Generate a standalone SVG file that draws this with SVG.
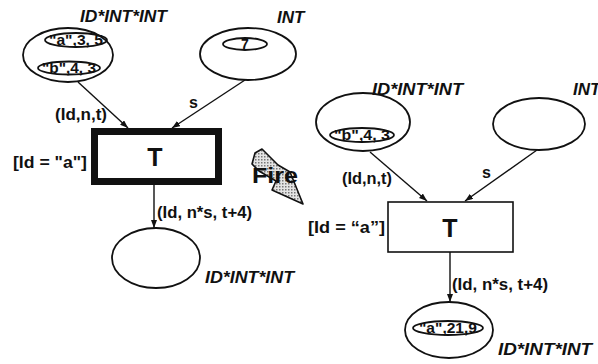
<svg xmlns="http://www.w3.org/2000/svg" width="598" height="364" viewBox="0 0 598 364">
  <style>
    .place { fill: #fff; stroke: #111; stroke-width: 1.8; }
    .token { fill: none; stroke: #111; stroke-width: 1.8; }
    .trans { fill: #fff; stroke: #111; }
    .arc { fill: none; stroke: #111; stroke-width: 1.4; marker-end: url(#head); }
    text { font-family: "Liberation Sans", Arial, sans-serif; font-weight: bold; fill: #111; }
    .type { font-style: italic; font-size: 17px; }
    .lab { font-size: 16px; }
    .tok { font-size: 14px; text-anchor: middle; }
    .tname { font-size: 25px; text-anchor: middle; }
  </style>
  <defs>
    <marker id="head" markerWidth="8" markerHeight="6" refX="8" refY="3" orient="auto" markerUnits="userSpaceOnUse">
      <path d="M0,0 L8,3 L0,6 z" fill="#111"/>
    </marker>
    <pattern id="stipple" width="3" height="3" patternUnits="userSpaceOnUse">
      <rect width="3" height="3" fill="#e4e4e4"/>
      <rect width="1.5" height="1.5" fill="#777"/>
    </pattern>
  </defs>

  <!-- connectors -->
  <g id="connectors">
    <path class="arc" d="M78,82 L128,128"/>
    <path class="arc" d="M245,80 L172,128"/>
    <path class="arc" d="M154,185 L154,228"/>
    <path class="arc" d="M370,152 L427,201"/>
    <path class="arc" d="M537,150 L465,201"/>
    <path class="arc" d="M450,252 L450,302"/>
  </g>

  <!-- net before firing -->
  <g id="p1-before">
    <ellipse class="place" cx="68" cy="55" rx="45" ry="27"/>
    <ellipse class="token" cx="76" cy="40" rx="31" ry="7"/>
    <text class="tok" x="76" y="45" textLength="54" lengthAdjust="spacingAndGlyphs">"a",3, 5</text>
    <ellipse class="token" cx="69" cy="68" rx="31" ry="6.5"/>
    <text class="tok" x="69" y="73" textLength="54" lengthAdjust="spacingAndGlyphs">"b",4, 3</text>
    <text class="type" x="80" y="22" textLength="87" lengthAdjust="spacingAndGlyphs">ID*INT*INT</text>
  </g>
  <g id="p2-before">
    <ellipse class="place" cx="248" cy="54" rx="48" ry="26"/>
    <ellipse class="token" cx="245" cy="44" rx="22" ry="6"/>
    <text class="tok" x="245" y="49">7</text>
    <text class="type" x="277" y="23">INT</text>
  </g>
  <g id="t-before">
    <rect class="trans" x="94.5" y="131.5" width="124" height="50" stroke-width="7"/>
    <text class="tname" x="155" y="166">T</text>
    <text class="lab" x="13" y="168" textLength="74" lengthAdjust="spacingAndGlyphs">[Id = "a"]</text>
  </g>
  <g id="p3-before">
    <ellipse class="place" cx="156" cy="258" rx="44" ry="30"/>
    <text class="type" x="205" y="283" textLength="89" lengthAdjust="spacingAndGlyphs">ID*INT*INT</text>
  </g>
  <g id="arc-labels-before">
    <text class="lab" x="55" y="120" textLength="52" lengthAdjust="spacingAndGlyphs">(Id,n,t)</text>
    <text class="lab" x="189" y="108">s</text>
    <text class="lab" x="157" y="218" textLength="95" lengthAdjust="spacingAndGlyphs">(Id, n*s, t+4)</text>
  </g>

  <!-- firing step -->
  <g id="fire">
    <path d="M252,164 L255,153 L262,149 L278,165 L290,172 L303,204 L272,190 L276,181 L259,171 Z" fill="url(#stipple)" stroke="#111" stroke-width="1.6" stroke-linejoin="round"/>
    <text x="252" y="183" font-size="22" textLength="46" lengthAdjust="spacingAndGlyphs">Fire</text>
  </g>

  <!-- net after firing -->
  <g id="p1-after">
    <ellipse class="place" cx="363" cy="122" rx="47" ry="29"/>
    <ellipse class="token" cx="362" cy="135" rx="32" ry="7"/>
    <text class="tok" x="362" y="140" textLength="56" lengthAdjust="spacingAndGlyphs">"b",4, 3</text>
    <text class="type" x="372" y="95" textLength="91" lengthAdjust="spacingAndGlyphs">ID*INT*INT</text>
  </g>
  <g id="p2-after">
    <ellipse class="place" cx="539" cy="124" rx="46" ry="26"/>
    <text class="type" x="573" y="95">INT</text>
  </g>
  <g id="t-after">
    <rect class="trans" x="388" y="202" width="125" height="50" stroke-width="1.6"/>
    <text class="tname" x="450" y="237">T</text>
    <text class="lab" x="308" y="233" textLength="77" lengthAdjust="spacingAndGlyphs">[Id = “a”]</text>
  </g>
  <g id="p3-after">
    <ellipse class="place" cx="449" cy="330" rx="44" ry="28"/>
    <ellipse class="token" cx="448" cy="328" rx="35" ry="7"/>
    <text class="tok" x="448" y="333" textLength="58" lengthAdjust="spacingAndGlyphs">"a",21,9</text>
    <text class="type" x="498" y="355" textLength="94" lengthAdjust="spacingAndGlyphs">ID*INT*INT</text>
  </g>
  <g id="arc-labels-after">
    <text class="lab" x="342" y="184" textLength="50" lengthAdjust="spacingAndGlyphs">(Id,n,t)</text>
    <text class="lab" x="482" y="178">s</text>
    <text class="lab" x="452" y="290" textLength="96" lengthAdjust="spacingAndGlyphs">(Id, n*s, t+4)</text>
  </g>
</svg>
